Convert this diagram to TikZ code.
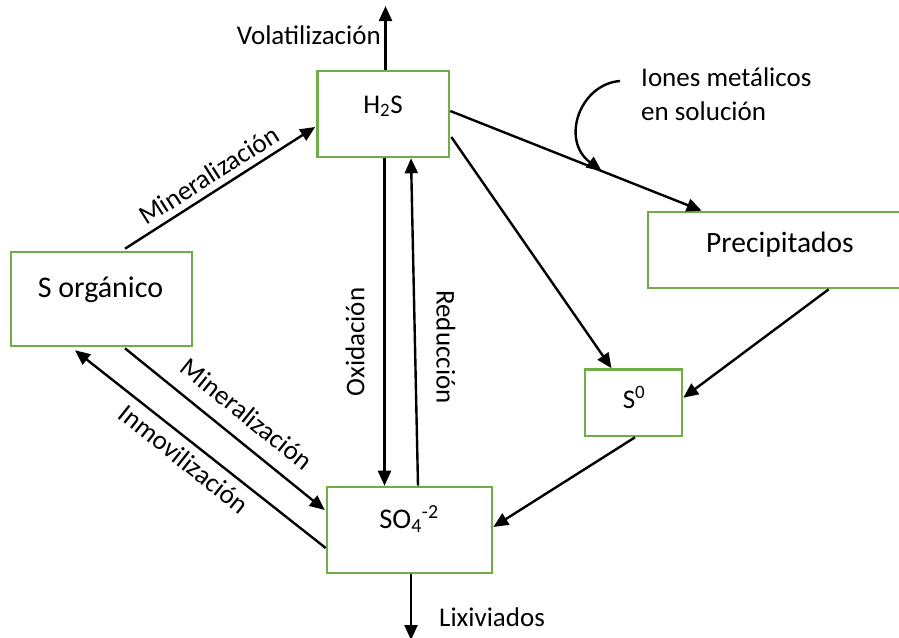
\documentclass[tikz,border=0pt]{standalone}
\usepackage{fontspec}
\setmainfont{Carlito}
\usetikzlibrary{arrows.meta,calc}
\definecolor{boxgreen}{HTML}{70AD47}
\begin{document}
\begin{tikzpicture}[x=1pt,y=-1pt,
  box/.style={draw=boxgreen,line width=2.6pt,fill=white,rectangle,inner sep=0pt},
  arr/.style={line width=2.4pt,-{Triangle[length=15pt,width=13pt]}},
  lbl/.style={inner sep=0pt,font=\fontsize{27}{32}\selectfont},
  btxt/.style={inner sep=0pt,anchor=base,font=\fontsize{#1}{#1}\selectfont}]
\useasboundingbox (0,0) rectangle (899,637);
\clip (0,0) rectangle (899,637);
% boxes
\node[box,minimum width=131.5pt,minimum height=86pt] (h2s) at (383.25,114) {};
\node[box,minimum width=181pt,minimum height=94pt] (sorg) at (101.5,299) {};
\node[box,minimum width=264pt,minimum height=76pt] (precip) at (780,250) {};
\node[box,minimum width=97pt,minimum height=66.5pt] (s0) at (633.5,402.75) {};
\node[box,minimum width=165pt,minimum height=86pt] (so4) at (409.5,530) {};
% box texts
\node[btxt=27] (th2s) at (383,113) {H\textsubscript{2}S};
\node[btxt=30] (tsorg) at (100.5,297) {S orgánico};
\node[btxt=28.5] (tso4) at (409,528) {SO\textsubscript{4}\textsuperscript{-2}};
\node[btxt=29.5] (tprecip) at (780,252) {Precipitados};
\node[btxt=27] (ts0) at (634,408) {S\textsuperscript{0}};
% free ends
\coordinate (vtop) at (385.5,6);
\coordinate (lixbot) at (411,640);
\coordinate (ionesstart) at (620,81);
% connectors
\draw[arr] ($(h2s.north)+(2.25,0)$) -- (vtop);
\draw[arr] ($(sorg.north)+(23.5,-2)$) -- ($(h2s.west)+(-1,13)$);
\draw[arr] ($(sorg.south)+(23.5,1)$) -- ($(so4.west)+(-1,-20)$);
\draw[arr] ($(so4.west)+(0,18)$) -- ($(sorg.south)+(-26.5,3)$);
\draw[arr] ($(h2s.south)+(1.25,0)$) -- ($(so4.north)+(-25,0)$);
\draw[arr] ($(so4.north)+(8.5,0)$) -- ($(h2s.south)+(27.75,0)$);
\draw[arr] ($(h2s.east)+(0,-3)$) -- coordinate[pos=0.602] (meet) ($(precip.north west)+(55,0)$);
\draw[arr] ($(h2s.east)+(1,23)$) -- ($(s0.north)+(-22,0)$);
\draw[arr] ($(precip.south west)+(182,0)$) -- ($(s0.east)+(0,-5)$);
\draw[arr] ($(s0.south)+(1.5,0)$) -- ($(so4.east)+(0,-3)$);
\draw[arr] ($(so4.south)+(1.5,0)$) -- (lixbot);
\draw[arr] (ionesstart) .. controls (580,84) and (560,140) .. (meet);
% labels
\node[lbl,anchor=base east] (lvol) at (381,44) {Volatilización};
\node[lbl,anchor=base west] (lion1) at (641,86) {Iones metálicos};
\node[lbl,anchor=base west] (lion2) at (641,120) {en solución};
\node[lbl,anchor=base west] (llix) at (439,626) {Lixiviados};
\node[lbl,rotate=90] (loxi) at (355,342) {Oxidación};
\node[lbl,rotate=-90] (lred) at (446,347) {Reducción};
\node[lbl,rotate=32.5] (lmin1) at (209,175) {Mineralización};
\node[lbl,rotate=-39] (lmin2) at (247,414) {Mineralización};
\node[lbl,rotate=-38.5] (linm) at (184,459) {Inmovilización};
\end{tikzpicture}
\end{document}
